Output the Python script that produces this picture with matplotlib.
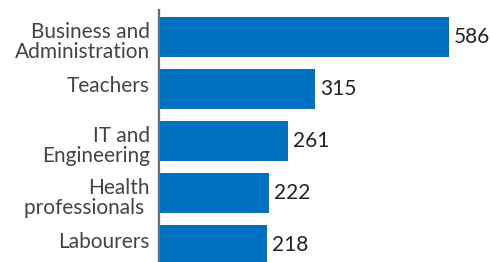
import matplotlib
matplotlib.use("Agg")
import matplotlib.pyplot as plt
from matplotlib.transforms import offset_copy

categories = ["Business and\nAdministration", "Teachers", "IT and\nEngineering",
              "Health\nprofessionals ", "Labourers"]
values = [586, 315, 261, 222, 218]

plt.rcParams['font.family'] = ['Lato', 'DejaVu Sans']

W, H = 490, 262
fig = plt.figure(figsize=(W / 100, H / 100), dpi=100)
left_px, top_px = 159, 10
ax = fig.add_axes([left_px / W, 0, 1 - left_px / W, (H - top_px) / H])

pos = list(range(len(categories)))
color = "#0070C0"
ax.barh(pos, values, height=0.77, color=color, zorder=2)
ax.set_xlim(0, (W - left_px) / 0.495)
ax.set_ylim((H - 37) / 52, -(37 - top_px) / 52)

for s in ["top", "right", "bottom"]:
    ax.spines[s].set_visible(False)
ax.spines["left"].set_color("#6b6b6b")
ax.spines["left"].set_linewidth(1.6)
ax.set_xticks([])
ax.set_yticks([])

gap = 18
for p, c in zip(pos, categories):
    n = c.count("\n")
    tr = offset_copy(ax.get_yaxis_transform(), fig=fig, x=-9,
                     y=-(3 + gap * n), units='dots')
    ax.text(0, p, c, transform=tr, ha="right", va="baseline",
            multialignment="right", fontsize=15, color="#444444",
            linespacing=0.98)

for p, v in zip(pos, values):
    ax.annotate(str(v), (v, p), xytext=(5, 0), textcoords="offset pixels",
                ha="left", va="center", fontsize=15, color="#222222")

fig.savefig("out.png", dpi=100)
